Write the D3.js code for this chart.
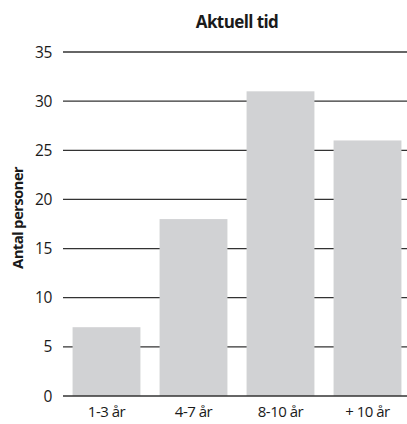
<!DOCTYPE html>
<html>
<head>
<meta charset="utf-8">
<script src="https://cdn.jsdelivr.net/npm/d3@7"></script>
<style>
  body { margin: 0; background: #fff; }
  text { font-family: "Open Sans", sans-serif; fill: #1a1a1a; }
</style>
</head>
<body>
<svg id="chart" width="407" height="424"></svg>
<script>
(function() {
  var categories = ["1-3 år", "4-7 år", "8-10 år", "+ 10 år"];
  var values = [7, 18, 31, 26];
  var yTicks = [0, 5, 10, 15, 20, 25, 30, 35];

  var svg = d3.select("#chart");

  var x = d3.scaleBand()
    .domain(categories)
    .range([63, 411])
    .paddingInner(0.22)
    .paddingOuter(0.11);

  var y = d3.scaleLinear()
    .domain([0, 35])
    .range([396, 52]);

  // gridlines
  svg.append("g")
    .selectAll("line")
    .data(yTicks.filter(function(d) { return d > 0; }))
    .join("line")
      .attr("x1", 63)
      .attr("x2", 407)
      .attr("y1", function(d) { return y(d); })
      .attr("y2", function(d) { return y(d); })
      .style("stroke", "#333")
      .style("stroke-width", 1.3);

  // bars
  svg.append("g")
    .selectAll("rect")
    .data(values)
    .join("rect")
      .attr("x", function(d, i) { return x(categories[i]); })
      .attr("y", function(d) { return y(d); })
      .attr("width", x.bandwidth())
      .attr("height", function(d) { return y(0) - y(d); })
      .style("fill", "#d1d2d4");

  // baseline
  svg.append("line")
    .attr("x1", 63).attr("x2", 407)
    .attr("y1", y(0)).attr("y2", y(0))
    .style("stroke", "#333")
    .style("stroke-width", 1.3);

  // y tick labels
  svg.append("g")
    .selectAll("text")
    .data(yTicks)
    .join("text")
      .attr("x", 52)
      .attr("y", function(d) { return y(d); })
      .attr("dy", "0.36em")
      .attr("text-anchor", "end")
      .style("font-size", "15.5px")
      .style("letter-spacing", "-0.4px")
      .text(function(d) { return d; });

  // x labels
  svg.append("g")
    .selectAll("text")
    .data(categories)
    .join("text")
      .attr("x", function(d) { return x(d) + x.bandwidth() / 2; })
      .attr("y", 417)
      .attr("text-anchor", "middle")
      .style("font-size", "15px")
      .style("letter-spacing", "-0.5px")
      .text(function(d) { return d; });

  // title
  svg.append("text")
    .attr("x", 237)
    .attr("y", 28)
    .attr("text-anchor", "middle")
    .style("font-size", "17px")
    .style("font-weight", "bold")
    .style("letter-spacing", "-0.6px")
    .text("Aktuell tid");

  // y axis label
  svg.append("text")
    .attr("transform", "translate(23,218) rotate(-90)")
    .attr("text-anchor", "middle")
    .style("font-size", "15px")
    .style("font-weight", "bold")
    .style("letter-spacing", "-0.7px")
    .text("Antal personer");
})();
</script>
</body>
</html>
